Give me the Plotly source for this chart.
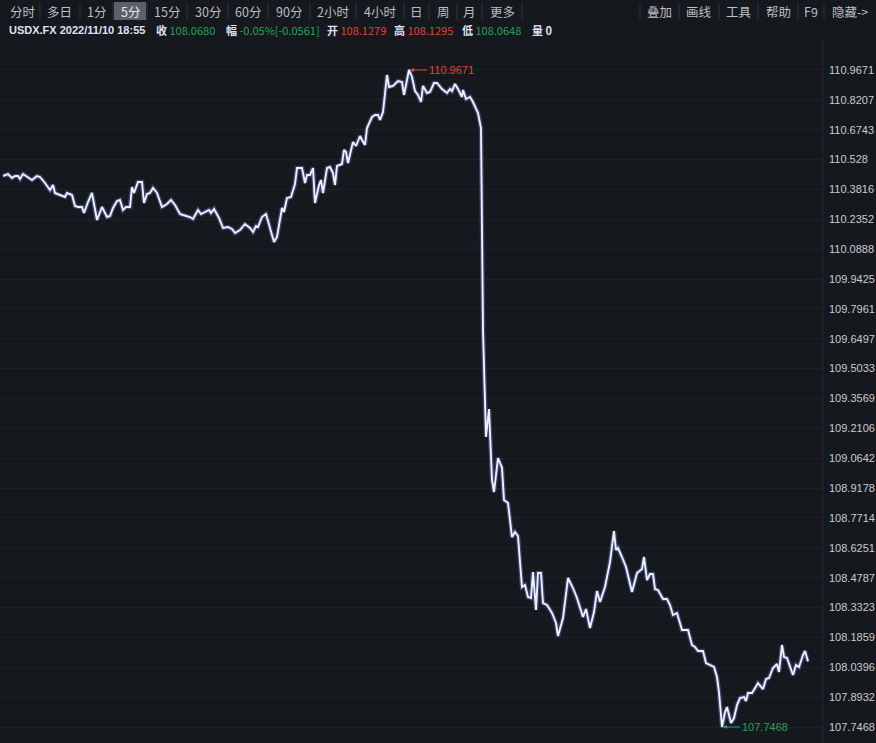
import plotly.graph_objects as go

# ---- data ----
t = [3, 8, 12, 15, 18, 20, 23, 27, 32, 37, 40, 45, 50, 53, 55, 60, 65, 67, 72, 75,
     78, 82, 84, 88, 92, 97, 102, 107, 110, 113, 117, 120, 123, 126, 130, 132, 134, 138, 142, 144,
     147, 150, 153, 157, 162, 167, 171, 175, 180, 183, 187, 190, 193, 198, 201, 205, 209, 211, 214, 219,
     223, 228, 232, 235, 240, 245, 250, 253, 256, 258, 262, 266, 269, 274, 277, 282, 284, 287, 291, 295,
     297, 302, 305, 307, 310, 313, 315, 319, 321, 323, 327, 330, 333, 335, 337, 342, 344, 346, 348, 353,
     356, 360, 362, 365, 367, 372, 375, 378, 380, 383, 387, 389, 393, 398, 402, 404, 407, 409, 412, 415,
     418, 421, 423, 427, 430, 434, 437, 442, 447, 450, 452, 455, 458, 462, 463, 466, 470, 473, 478, 481,
     483, 486, 489, 492, 494, 498, 502, 504, 508, 512, 515, 518, 522, 525, 528, 531, 533, 536, 538, 541,
     543, 547, 552, 556, 558, 563, 568, 573, 577, 583, 586, 590, 594, 597, 600, 605, 610, 614, 616, 618,
     622, 626, 632, 637, 642, 644, 647, 650, 653, 655, 658, 663, 667, 670, 673, 677, 682, 688, 692, 695,
     698, 703, 706, 711, 714, 717, 719, 722, 725, 727, 731, 734, 737, 740, 744, 746, 748, 752, 756, 758,
     763, 766, 769, 773, 777, 779, 782, 784, 787, 793, 796, 799, 803, 805, 808]
close = [110.4475, 110.4573, 110.4377, 110.4475, 110.4475, 110.4328, 110.4573, 110.4426, 110.4279, 110.4475,
         110.4426, 110.4132, 110.3789, 110.4034, 110.3642, 110.3544, 110.3446, 110.3642, 110.3544, 110.3005,
         110.2956, 110.2956, 110.2662, 110.3201, 110.3642, 110.2318, 110.2956, 110.2465, 110.2515, 110.2907,
         110.3250, 110.3299, 110.2809, 110.2956, 110.2956, 110.3936, 110.3642, 110.4181, 110.4181, 110.3152,
         110.3593, 110.3642, 110.3887, 110.3642, 110.2956, 110.3103, 110.3299, 110.3054, 110.2613, 110.2564,
         110.2515, 110.2465, 110.2367, 110.2809, 110.2613, 110.2711, 110.2809, 110.2662, 110.2858, 110.2417,
         110.1926, 110.1975, 110.1877, 110.1681, 110.1828, 110.2122, 110.1926, 110.1730, 110.2024, 110.1975,
         110.2465, 110.2613, 110.2122, 110.1240, 110.1485, 110.2907, 110.2711, 110.3397, 110.3446, 110.4083,
         110.4867, 110.4867, 110.4132, 110.4524, 110.4524, 110.4867, 110.3152, 110.4034, 110.4279, 110.3642,
         110.4867, 110.4916, 110.4622, 110.4034, 110.4965, 110.5063, 110.5750, 110.5652, 110.5112, 110.6142,
         110.5946, 110.6436, 110.6240, 110.5995, 110.6828, 110.7367, 110.7465, 110.7465, 110.7220, 110.7612,
         110.9426, 110.8838, 110.8887, 110.9132, 110.9083, 110.8446, 110.9181, 110.9671, 110.9328, 110.8642,
         110.8446, 110.8102, 110.8887, 110.8544, 110.8593, 110.9034, 110.9034, 110.8740, 110.8544, 110.8740,
         110.8642, 110.8985, 110.8740, 110.8348, 110.8691, 110.8250, 110.8348, 110.8102, 110.7563, 110.6828,
         109.6927, 109.1682, 109.3054, 108.9574, 108.8986, 109.0652, 109.0162, 108.8594, 108.8447, 108.6780,
         108.7025, 108.6829, 108.4329, 108.4427, 108.3839, 108.3790, 108.5064, 108.3202, 108.5015, 108.5015,
         108.3545, 108.3447, 108.3055, 108.2565, 108.1927, 108.2810, 108.4770, 108.4280, 108.3790, 108.2859,
         108.3251, 108.2320, 108.3104, 108.4133, 108.3594, 108.4329, 108.5555, 108.7074, 108.6143, 108.6241,
         108.5800, 108.5310, 108.4084, 108.5015, 108.5212, 108.5800, 108.4672, 108.4966, 108.4966, 108.4231,
         108.4182, 108.3741, 108.3741, 108.3447, 108.2957, 108.3055, 108.2221, 108.2221, 108.1486, 108.1388,
         108.1192, 108.1192, 108.0604, 108.0506, 108.0408, 107.9918, 107.9182, 107.7468, 107.8202, 107.8447,
         107.7663, 107.7908, 107.8545, 107.8888, 107.8937, 107.8741, 107.9133, 107.9133, 107.9428, 107.9624,
         107.9329, 107.9820, 107.9869, 108.0359, 108.0555, 108.0163, 108.1486, 108.0898, 108.0849, 108.0016,
         108.0506, 108.0408, 108.0996, 108.1192, 108.0680]

tick_vals = [110.9671, 110.8207, 110.6743, 110.528, 110.3816, 110.2352, 110.0888, 109.9425,
             109.7961, 109.6497, 109.5033, 109.3569, 109.2106, 109.0642, 108.9178, 108.7714,
             108.6251, 108.4787, 108.3323, 108.1859, 108.0396, 107.8932, 107.7468]
tick_text = ["110.9671", "110.8207", "110.6743", "110.528", "110.3816", "110.2352", "110.0888", "109.9425",
             "109.7961", "109.6497", "109.5033", "109.3569", "109.2106", "109.0642", "108.9178", "108.7714",
             "108.6251", "108.4787", "108.3323", "108.1859", "108.0396", "107.8932", "107.7468"]

toolbar_left = ["分时", "多日", "1分", "5分", "15分", "30分", "60分", "90分", "2小时", "4小时", "日", "周", "月", "更多"]
toolbar_right = ["叠加", "画线", "工具", "帮助", "F9", "隐藏->"]
active_tab = "5分"

symbol_text = "USDX.FX 2022/11/10 18:55"
info_items = [("收", "108.0680", "green"), ("幅", "-0.05%[-0.0561]", "green"), ("开", "108.1279", "red"),
              ("高", "108.1295", "red"), ("低", "108.0648", "green"), ("量", "0", "white")]

# ---- styling / layout ----
W, H = 876, 743
ML, MR, MT, MB = 0, 53, 40, 0
PW, PH = W - ML - MR, H - MT - MB
BG = "#15181d"
GREEN = "#27a35b"
RED = "#e5432f"
LABEL = "#c9ccd2"
CJK = "Noto Sans CJK SC, Liberation Sans, sans-serif"


def px(xp):
    return (xp - ML) / PW


def py(yp):
    return (H - MB - yp) / PH


fig = go.Figure()
fig.add_trace(go.Scatter(x=t, y=close, mode="lines", hoverinfo="skip",
                         line=dict(color="rgba(130,150,255,0.35)", width=4.5), showlegend=False))
fig.add_trace(go.Scatter(x=t, y=close, mode="lines",
                         line=dict(color="#eef0ff", width=1.9), showlegend=False))

# max/min markers
imax = close.index(max(close))
imin = close.index(min(close))
for idx, col in ((imax, RED), (imin, GREEN)):
    fig.add_annotation(x=t[idx], y=close[idx], text=f"{close[idx]:.4f}", showarrow=True,
                       ax=18, ay=0, xanchor="left", yanchor="middle", arrowhead=2, arrowsize=0.8,
                       arrowwidth=1, arrowcolor=col, standoff=1,
                       font=dict(color=col, size=11, family="Liberation Sans"))

# toolbar
left_edges = [5, 40, 80, 113, 147, 187, 228, 268, 310, 356, 404, 429, 457, 482, 522]
right_edges = [640, 679, 719, 758, 798, 824, 876]
shapes = []
anns = []
for i, lab in enumerate(toolbar_left):
    x0, x1 = left_edges[i], left_edges[i + 1]
    if lab == active_tab:
        shapes.append(dict(type="rect", xref="paper", yref="paper", x0=px(x0 + 1), x1=px(x1 - 1),
                           y0=py(20), y1=py(2), fillcolor="#5c6068", line=dict(width=0), layer="below"))
    anns.append(dict(x=px((x0 + x1) / 2), y=py(11), xref="paper", yref="paper", text=lab, showarrow=False,
                     xanchor="center", yanchor="middle",
                     font=dict(size=12.5, color="#e8e8e8" if lab == active_tab else "#bcbec2", family=CJK)))
for xe in left_edges[1:]:
    shapes.append(dict(type="line", xref="paper", yref="paper", x0=px(xe), x1=px(xe), y0=py(20), y1=py(3),
                       line=dict(color="#30343a", width=1)))
for i, lab in enumerate(toolbar_right):
    x0, x1 = right_edges[i], right_edges[i + 1]
    anns.append(dict(x=px((x0 + x1) / 2), y=py(11), xref="paper", yref="paper", text=lab, showarrow=False,
                     xanchor="center", yanchor="middle",
                     font=dict(size=12.5, color="#bcbec2", family=CJK)))
for xe in right_edges[:-1]:
    shapes.append(dict(type="line", xref="paper", yref="paper", x0=px(xe), x1=px(xe), y0=py(20), y1=py(3),
                       line=dict(color="#30343a", width=1)))

# info row
anns.append(dict(x=px(7), y=py(30), xref="paper", yref="paper", xanchor="left", yanchor="middle",
                 text=f"<b>{symbol_text}</b>", showarrow=False,
                 font=dict(size=11, color="#dde3f5", family="Liberation Sans")))
info_x = [154, 224, 325, 392, 460, 530]
colmap = {"green": GREEN, "red": RED, "white": "#dde3f5"}
for (k, v, c), xs in zip(info_items, info_x):
    txt = (f"<b>{k}</b> <span style='color:{colmap[c]}'>{v}</span>" if c != "white"
           else f"<b>{k}</b> <b>{v}</b>")
    anns.append(dict(x=px(xs), y=py(30), xref="paper", yref="paper", xanchor="left", yanchor="middle",
                     text=txt, showarrow=False, font=dict(size=11, color="#dde3f5", family=CJK)))

# right axis divider
shapes.append(dict(type="line", xref="paper", yref="paper", x0=1, x1=1, y0=0, y1=1,
                   line=dict(color="#24282e", width=1)))

for a in anns:
    fig.add_annotation(**a)

fig.update_layout(
    width=W, height=H, margin=dict(l=ML, r=MR, t=MT, b=MB),
    paper_bgcolor=BG, plot_bgcolor=BG, shapes=shapes,
    xaxis=dict(range=[0, PW], visible=False, fixedrange=True),
    yaxis=dict(range=[107.6684, 111.1141], side="right", tickvals=tick_vals, ticktext=tick_text,
               showgrid=True, gridcolor="#1e2228", gridwidth=1, zeroline=False, showline=False,
               ticks="", ticklabelstandoff=5, fixedrange=True,
               tickfont=dict(size=11, color=LABEL, family="Liberation Sans")),
    showlegend=False,
)

fig.write_html("out.html", config={"displayModeBar": False},
               post_script="document.body.style.margin='0';document.body.style.background='#15181d';")
